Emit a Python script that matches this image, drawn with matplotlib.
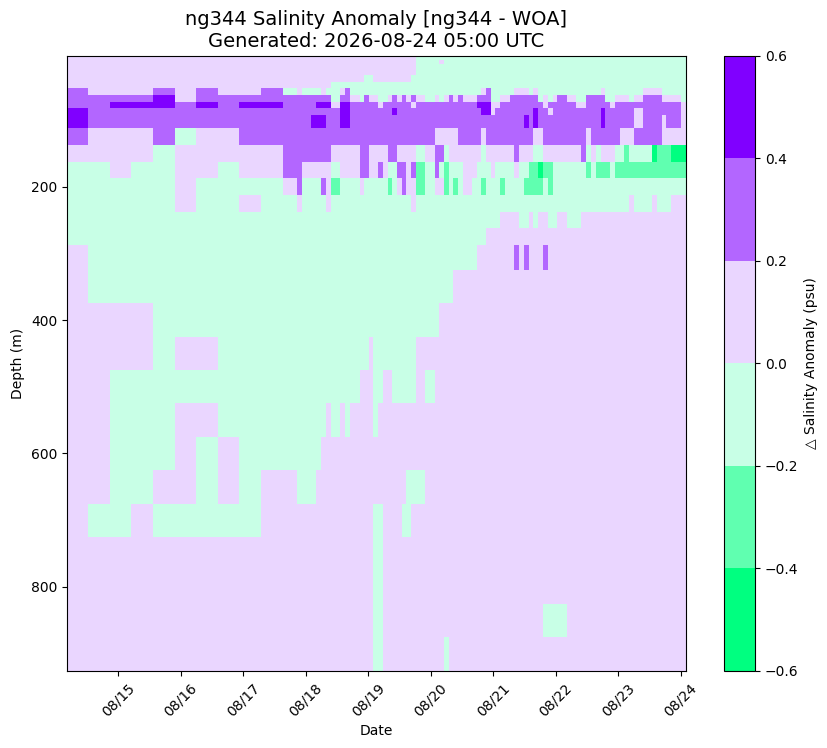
import datetime as dt
import numpy as np
import matplotlib
matplotlib.use("Agg")
import matplotlib.pyplot as plt
import matplotlib.dates as mdates
from matplotlib.colors import ListedColormap, BoundaryNorm

# Each row: (anomaly bin value, end of run as day of August 2026)
title = "ng344 Salinity Anomaly [ng344 - WOA]\nGenerated: 2026-08-24 05:00 UTC"
t_start = 14.184
t_end = 24.088
depth_edges = [3.5, 9.5, 16.5, 32.5, 42.5, 52.5, 62.5, 72.5, 82.5, 92.5, 112.5, 137.5,
               162.5, 187.5, 212.5, 237.5, 262.5, 287.5, 325, 375, 425, 475, 525, 575,
               625, 675, 725, 775, 825, 875, 926]
levels = [-0.6, -0.4, -0.2, 0.0, 0.2, 0.4, 0.6]
colors = ["#00ff80", "#60ffb0", "#c8ffe6", "#ead6ff", "#b366ff", "#8000ff"]

r005 = [(.1, 19.768), (-.1, 24.088)]
r010 = [(.1, 19.768), (-.1, 20.136), (.1, 20.216), (-.1, 24.088)]
r025 = [(.1, 19.768), (-.1, 24.088)]
r035 = [(.1, 18.936), (-.1, 19.08), (.1, 19.688), (-.1, 24.088)]
r045 = [(.1, 18.408), (-.1, 24.088)]
r055 = [(.3, 14.52), (.1, 15.56), (.3, 15.912), (.1, 16.248), (.3, 16.6), (.1, 17.288), (.3, 17.64),
        (-.1, 17.864), (.1, 17.944), (-.1, 18.248), (.1, 18.328), (-.1, 18.552), (.1, 18.632),
        (.3, 18.712), (-.1, 20.808), (.1, 20.888), (.3, 20.968), (-.1, 21.336), (.1, 21.576),
        (-.1, 21.64), (.1, 21.72), (-.1, 22.728), (.1, 22.792), (-.1, 23.4), (.1, 23.704), (-.1, 24.088)]
r065 = [(.3, 15.56), (.5, 15.912), (.1, 16.248), (.3, 18.408), (-.1, 18.552), (.3, 18.712), (.1, 18.872),
        (-.1, 18.936), (.3, 19.016), (.1, 19.16), (-.1, 19.32), (.1, 19.384), (.3, 19.464), (.1, 19.544),
        (.3, 19.608), (.1, 19.688), (.3, 19.768), (.1, 19.912), (-.1, 20.072), (.1, 20.136), (-.1, 20.216),
        (.1, 20.296), (.3, 20.36), (.1, 20.44), (.3, 20.52), (.1, 20.744), (.3, 20.968), (-.1, 21.112),
        (.1, 21.272), (.3, 21.72), (-.1, 21.8), (.1, 21.88), (-.1, 21.96), (.1, 22.024), (.3, 22.184),
        (.1, 22.328), (-.1, 22.488), (.3, 22.792), (-.1, 22.952), (.1, 23.176), (-.1, 23.256), (.1, 23.4),
        (.3, 23.704), (.1, 24.008), (-.1, 24.088)]
r075 = [(.3, 14.872), (.5, 15.912), (.3, 16.248), (.5, 16.6), (.3, 16.936), (.5, 17.64), (.3, 18.168),
        (.5, 18.408), (.1, 18.552), (.5, 18.712), (.3, 19.16), (.1, 19.24), (.3, 19.688), (.1, 19.768),
        (.3, 20.744), (.5, 20.968), (.1, 21.112), (.3, 21.8), (.1, 21.88), (.3, 22.328), (.1, 22.488),
        (.3, 22.872), (.1, 22.952), (.3, 24.008), (.1, 24.088)]
r085 = [(.5, 14.52), (.3, 18.552), (.5, 18.712), (.3, 19.384), (.5, 19.464), (.3, 20.808), (.5, 20.968),
        (.1, 21.032), (.3, 21.64), (.5, 21.72), (.3, 21.88), (.1, 21.96), (.3, 22.728), (.5, 22.792),
        (.3, 23.256), (.1, 23.4), (.3, 24.008), (.1, 24.088)]
r100 = [(.5, 14.52), (.3, 18.088), (.5, 18.328), (.3, 18.552), (.5, 18.712), (.3, 21.496), (.5, 21.576),
        (.3, 21.64), (.5, 21.72), (.3, 22.728), (.5, 22.792), (.3, 23.256), (.1, 23.4), (.3, 23.704),
        (.1, 23.768), (.3, 24.008), (.1, 24.088)]
r125 = [(.3, 14.52), (.1, 15.56), (.3, 15.912), (-.1, 16.248), (.1, 16.936), (.3, 20.072), (.1, 20.44),
        (.3, 20.808), (.1, 20.888), (.3, 21.64), (.1, 21.8), (.3, 22.488), (.1, 22.568), (.3, 23.032),
        (.1, 23.256), (.3, 23.704), (.1, 24.088)]
r150 = [(.1, 15.56), (-.1, 15.912), (.1, 17.64), (.3, 18.408), (.1, 18.872), (.3, 19.016), (.1, 19.32),
        (.3, 19.464), (.1, 19.768), (-.1, 19.912), (.1, 20.072), (.3, 20.216), (-.1, 20.296), (.1, 20.808),
        (-.1, 20.888), (.1, 21.336), (.3, 21.416), (.1, 21.64), (-.1, 21.8), (.1, 22.408), (.3, 22.488),
        (-.1, 22.568), (.1, 22.648), (-.1, 22.728), (.1, 22.952), (-.1, 23.096), (-.3, 23.176), (-.1, 23.544),
        (-.5, 23.624), (-.3, 23.848), (-.5, 24.088)]
r175 = [(-.1, 14.872), (.1, 15.208), (-.1, 15.912), (.1, 16.6), (-.1, 16.936), (.1, 17.64), (.3, 17.944),
        (.1, 18.408), (-.1, 18.552), (.1, 18.872), (.3, 19.016), (.1, 19.16), (.3, 19.24), (.1, 19.32),
        (-.1, 19.464), (.3, 19.608), (.1, 19.688), (.3, 19.768), (-.3, 19.912), (-.1, 20.072), (.3, 20.136),
        (-.1, 20.216), (-.3, 20.296), (-.1, 20.52), (.1, 20.744), (-.1, 20.968), (.1, 21.032), (-.1, 21.336),
        (.1, 21.416), (-.1, 21.576), (-.3, 21.72), (-.5, 21.8), (-.3, 21.96), (-.1, 22.488), (-.3, 22.568),
        (-.1, 22.648), (-.3, 22.872), (-.1, 22.952), (-.3, 24.088)]
r200 = [(-.1, 15.912), (.1, 16.248), (-.1, 17.64), (.1, 17.864), (.3, 17.944), (-.1, 18.248), (.3, 18.328),
        (.1, 18.408), (-.3, 18.552), (-.1, 18.872), (.1, 18.936), (-.1, 19.32), (-.3, 19.384), (-.1, 19.464),
        (.1, 19.544), (.3, 19.608), (.1, 19.768), (-.3, 19.912), (-.1, 20.072), (.1, 20.216), (-.3, 20.296),
        (-.1, 20.36), (-.3, 20.44), (-.1, 20.52), (.1, 20.664), (-.1, 20.808), (-.3, 20.888), (-.1, 21.112),
        (-.3, 21.192), (-.1, 21.496), (-.3, 21.8), (-.1, 21.88), (-.3, 21.96), (-.1, 24.088)]
r225 = [(-.1, 15.912), (.1, 16.248), (-.1, 16.936), (.1, 17.288), (-.1, 17.864), (.1, 17.944), (-.1, 18.328),
        (.1, 18.408), (-.1, 19.688), (.1, 19.768), (-.1, 23.176), (.1, 23.256), (-.1, 23.544), (.1, 23.624),
        (-.1, 23.848), (.1, 24.088)]
r250 = [(-.1, 21.112), (.1, 21.416), (-.1, 21.576), (.1, 21.64), (-.1, 21.72), (.1, 21.88), (-.1, 22.024),
        (.1, 22.184), (-.1, 22.408), (.1, 24.088)]
r275 = [(-.1, 20.888), (.1, 24.088)]
r300 = [(.1, 14.52), (-.1, 20.744), (.1, 21.336), (.3, 21.416), (.1, 21.496), (.3, 21.576), (.1, 21.8),
        (.3, 21.88), (.1, 24.088)]
r350 = [(.1, 14.52), (-.1, 20.36), (.1, 24.088)]
r400 = [(.1, 15.56), (-.1, 20.136), (.1, 24.088)]
r450 = [(.1, 15.56), (-.1, 15.912), (.1, 16.6), (-.1, 19.016), (.1, 19.08), (-.1, 19.768), (.1, 24.088)]
r500 = [(.1, 14.872), (-.1, 18.872), (.1, 19.08), (-.1, 19.24), (.1, 19.384), (-.1, 19.768), (.1, 19.912),
        (-.1, 20.072), (.1, 24.088)]
r550 = [(.1, 14.872), (-.1, 15.912), (.1, 16.6), (-.1, 18.328), (.1, 18.408), (-.1, 18.552), (.1, 18.632),
        (-.1, 18.712), (.1, 19.08), (-.1, 19.16), (.1, 24.088)]
r600 = [(.1, 14.872), (-.1, 15.912), (.1, 16.248), (-.1, 16.6), (.1, 16.936), (-.1, 18.248), (.1, 24.088)]
r650 = [(.1, 14.872), (-.1, 15.56), (.1, 16.248), (-.1, 16.6), (.1, 16.936), (-.1, 17.288), (.1, 17.864),
        (-.1, 18.168), (.1, 19.608), (-.1, 19.912), (.1, 24.088)]
r700 = [(.1, 14.52), (-.1, 15.208), (.1, 15.56), (-.1, 17.288), (.1, 19.08), (-.1, 19.24), (.1, 19.544),
        (-.1, 19.688), (.1, 24.088)]
r750 = [(.1, 19.08), (-.1, 19.24), (.1, 24.088)]
r800 = [(.1, 19.08), (-.1, 19.24), (.1, 24.088)]
r850 = [(.1, 19.08), (-.1, 19.24), (.1, 21.8), (-.1, 22.184), (.1, 24.088)]
r900 = [(.1, 19.08), (-.1, 19.24), (.1, 20.216), (-.1, 20.296), (.1, 24.088)]

rows = [r005, r010, r025, r035, r045, r055, r065, r075, r085, r100, r125, r150, r175, r200, r225, r250,
        r275, r300, r350, r400, r450, r500, r550, r600, r650, r700, r750, r800, r850, r900]

# Common time edges: every run end across all rows
edges = sorted({t_start} | {end for row in rows for _, end in row})
mids = 0.5 * (np.array(edges[:-1]) + np.array(edges[1:]))
grid = np.empty((len(rows), len(mids)))
for i, row in enumerate(rows):
    ends = np.array([e for _, e in row])
    vals = np.array([v for v, _ in row])
    grid[i] = vals[np.searchsorted(ends, mids)]

base = mdates.date2num(dt.datetime(2026, 8, 1)) - 1
x = base + np.array(edges)

fig = plt.figure(figsize=(8.28, 7.48), dpi=100)
ax = fig.add_axes([67 / 828, 1 - 671 / 748, 619 / 828, 615.5 / 748])
cax = fig.add_axes([724 / 828, 1 - 671 / 748, 31 / 828, 615.5 / 748])
cmap = ListedColormap(colors)
norm = BoundaryNorm(levels, cmap.N)
mesh = ax.pcolormesh(x, depth_edges, grid, cmap=cmap, norm=norm, shading="flat")
ax.set_ylim(depth_edges[-1], depth_edges[0])
ax.set_xlim(base + t_start, base + t_end)
ax.set_yticks([200, 400, 600, 800])
ax.xaxis.set_major_locator(mdates.DayLocator())
ax.xaxis.set_major_formatter(mdates.DateFormatter("%m/%d"))
ax.tick_params(axis="x", labelrotation=45)
ax.set_xlabel("Date")
ax.set_ylabel("Depth (m)")
ax.set_title(title, fontsize=14)
cb = fig.colorbar(mesh, cax=cax, ticks=levels)
cb.set_label("△ Salinity Anomaly (psu)")
fig.savefig("out.png", dpi=100)
